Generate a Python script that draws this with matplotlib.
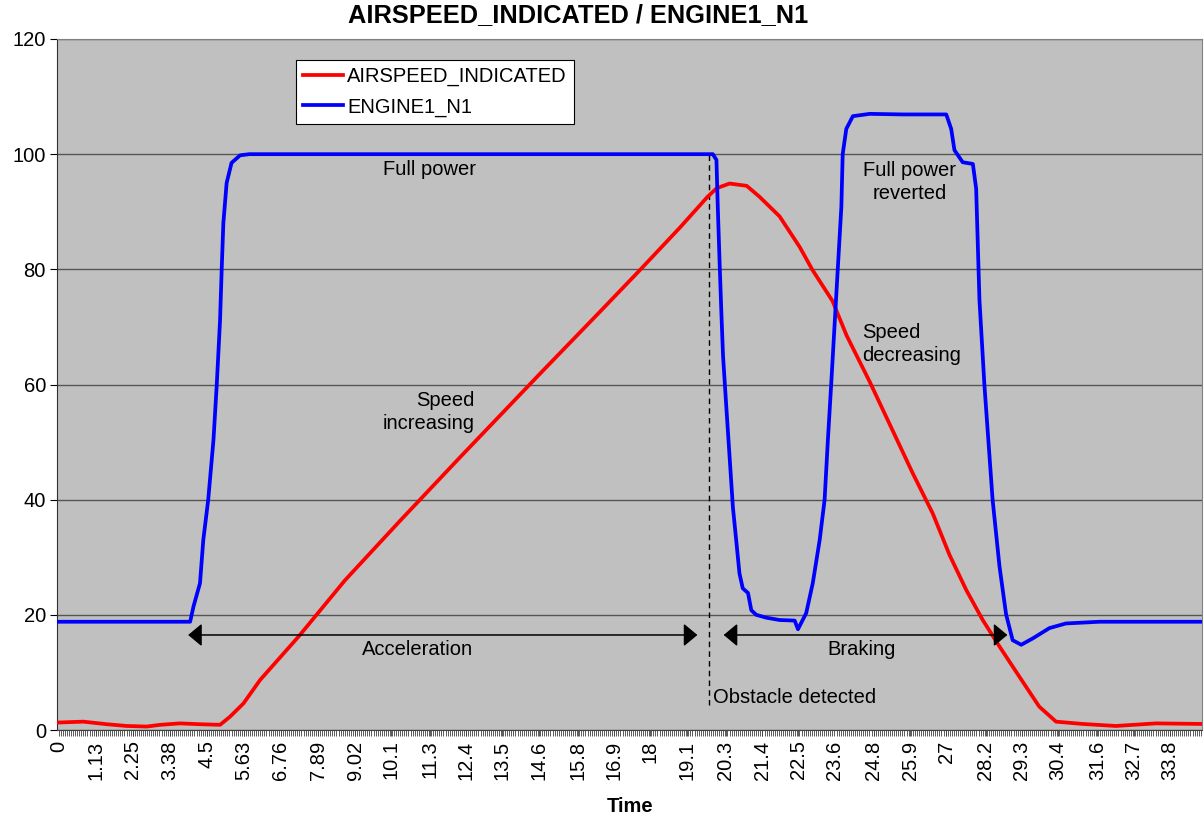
import matplotlib

matplotlib.use("Agg")
import matplotlib.pyplot as plt
import numpy as np

plt.rcParams["font.family"] = ["Liberation Sans", "DejaVu Sans"]

# time axis labels (Excel category axis, one label every 18 samples)
tick_labels = ["0", "1.13", "2.25", "3.38", "4.5", "5.63", "6.76", "7.89", "9.02", "10.1",
               "11.3", "12.4", "13.5", "14.6", "15.8", "16.9", "18", "19.1", "20.3", "21.4",
               "22.5", "23.6", "24.8", "25.9", "27", "28.2", "29.3", "30.4", "31.6", "32.7", "33.8"]

# ENGINE1_N1
n1_time = [0, 4.00, 4.10, 4.30, 4.40, 4.55, 4.71, 4.81, 4.91, 4.96,
           5.01, 5.11, 5.26, 5.52, 5.80, 19.90, 20.01, 20.05, 20.11, 20.16,
           20.21, 20.31, 20.41, 20.51, 20.61, 20.71, 20.81, 20.97, 21.07, 21.22,
           21.53, 21.93, 22.39, 22.49, 22.74, 22.94, 23.15, 23.30, 23.40, 23.50,
           23.60, 23.70, 23.81, 23.85, 23.96, 24.16, 24.67, 25.68, 27.00, 27.15,
           27.25, 27.50, 27.81, 27.91, 28.01, 28.16, 28.41, 28.62, 28.82, 29.02,
           29.28, 29.63, 30.14, 30.64, 31.66, 34.78]
n1_value = [18.8, 18.8, 21.4, 25.5, 33, 40, 50.4, 60, 71.2, 80,
            88, 95, 98.5, 99.8, 100, 100, 99, 90.9, 80.5, 72.4,
            65, 56.1, 47.4, 38.7, 33, 27.2, 24.6, 23.8, 20.8, 20,
            19.5, 19.1, 19, 17.5, 20.3, 25.5, 33, 40, 50.4, 60,
            70, 80, 90.9, 100, 104.4, 106.6, 107, 106.9, 106.9, 104.4,
            100.7, 98.6, 98.3, 94, 74.7, 60, 40, 28.4, 20.1, 15.6,
            14.8, 15.9, 17.7, 18.5, 18.8, 18.8]

# AIRSPEED_INDICATED
ias_time = [0, 0.75, 1.47, 2.07, 2.68, 3.09, 3.69, 4.30, 4.91, 5.21,
            5.62, 6.13, 7.31, 8.71, 10.38, 12.20, 14.63, 16.46, 17.67, 18.89,
            19.74, 20.02, 20.41, 20.93, 21.32, 21.93, 22.54, 22.93, 23.54, 23.97,
            24.67, 25.37, 25.98, 26.59, 27.10, 27.61, 28.11, 28.62, 29.22, 29.83,
            30.34, 31.15, 32.16, 33.38, 34.78]
ias_value = [1.3, 1.45, 1.0, 0.7, 0.6, 0.9, 1.15, 1.0, 0.9, 2.3,
             4.6, 8.7, 16.3, 26, 36.3, 47.3, 61.8, 72.6, 79.8, 87.2,
             92.6, 94.1, 94.9, 94.5, 92.6, 89.2, 83.9, 79.9, 74.5, 68.5,
             60.5, 52, 44.6, 37.6, 30.4, 24.3, 19.1, 14.5, 9.3, 4.05,
             1.45, 1.05, 0.7, 1.15, 1.05]

obstacle_time = 19.77
accel_span = (3.94, 19.43)
brake_span = (20.23, 28.86)

FS = 14.5

fig = plt.figure(figsize=(12.04, 8.19), dpi=100)
ax = fig.add_axes([57 / 1204, 89 / 819, 1145 / 1204, 691 / 819])
ax.set_facecolor("#c0c0c0")

ax.plot(ias_time, ias_value, color="#ff0000", lw=2.7, label="AIRSPEED_INDICATED",
        solid_joinstyle="round", zorder=3)
ax.plot(n1_time, n1_value, color="#0000ff", lw=2.7, label="ENGINE1_N1",
        solid_joinstyle="round", zorder=3)

ax.set_xlim(-0.05, 34.78)
ax.set_ylim(0, 120)
ax.set_yticks(np.arange(0, 121, 20))
ax.yaxis.grid(True, color="#555555", lw=1)
ax.set_axisbelow(True)

ax.set_xticks([float(s) for s in tick_labels])
ax.set_xticklabels(tick_labels, rotation=90)
ax.set_xticks(np.arange(0, 34.78, 0.0626), minor=True)
ax.tick_params(axis="x", which="both", length=4.5, width=0.6, color="#404040",
               labelsize=FS, pad=3)
ax.tick_params(axis="y", length=5, width=0.8, labelsize=FS, pad=3)

for side in ["top", "right"]:
    ax.spines[side].set_color("#808080")
ax.spines["left"].set_color("#303030")
ax.spines["bottom"].set_color("#404040")

# obstacle marker
ax.plot([obstacle_time, obstacle_time], [4.3, 100], color="black", lw=1,
        dashes=(4, 3), zorder=2)
ax.text(19.89, 5.7, "Obstacle detected", fontsize=FS, ha="left", va="center")

arrow = dict(arrowstyle="<|-|>,head_length=0.6,head_width=0.5", mutation_scale=14,
             color="black", lw=1.1, shrinkA=0, shrinkB=0)
ax.annotate("", xy=(accel_span[1], 16.5), xytext=(accel_span[0], 16.5), arrowprops=arrow, zorder=4)
ax.annotate("", xy=(brake_span[1], 16.5), xytext=(brake_span[0], 16.5), arrowprops=arrow, zorder=4)
ax.text(10.93, 13.9, "Acceleration", fontsize=FS, ha="center", va="center")
ax.text(24.42, 13.9, "Braking", fontsize=FS, ha="center", va="center")

ax.text(11.29, 97.4, "Full power", fontsize=FS, ha="center", va="center")
ax.text(25.88, 95.2, "Full power\nreverted", fontsize=FS, ha="center", va="center",
        linespacing=1.25)
ax.text(12.66, 55.2, "Speed\nincreasing", fontsize=FS, ha="right", va="center",
        multialignment="right", linespacing=1.25)
ax.text(24.45, 67.0, "Speed\ndecreasing", fontsize=FS, ha="left", va="center",
        multialignment="left", linespacing=1.25)

leg = ax.legend(loc="upper left", bbox_to_anchor=(0.2087, 0.9696), fontsize=FS,
                fancybox=False, framealpha=1, edgecolor="black", borderaxespad=0,
                handlelength=2.0, handletextpad=0.2, labelspacing=0.55, borderpad=0.35)
leg.get_frame().set_linewidth(0.8)

fig.text(578 / 1204, 1 - 15 / 819, "AIRSPEED_INDICATED / ENGINE1_N1", fontsize=18.3,
         fontweight="bold", ha="center", va="center")
fig.text(630 / 1204, 1 - 806 / 819, "Time", fontsize=FS, fontweight="bold",
         ha="center", va="center")

fig.savefig("out.png", dpi=100)
